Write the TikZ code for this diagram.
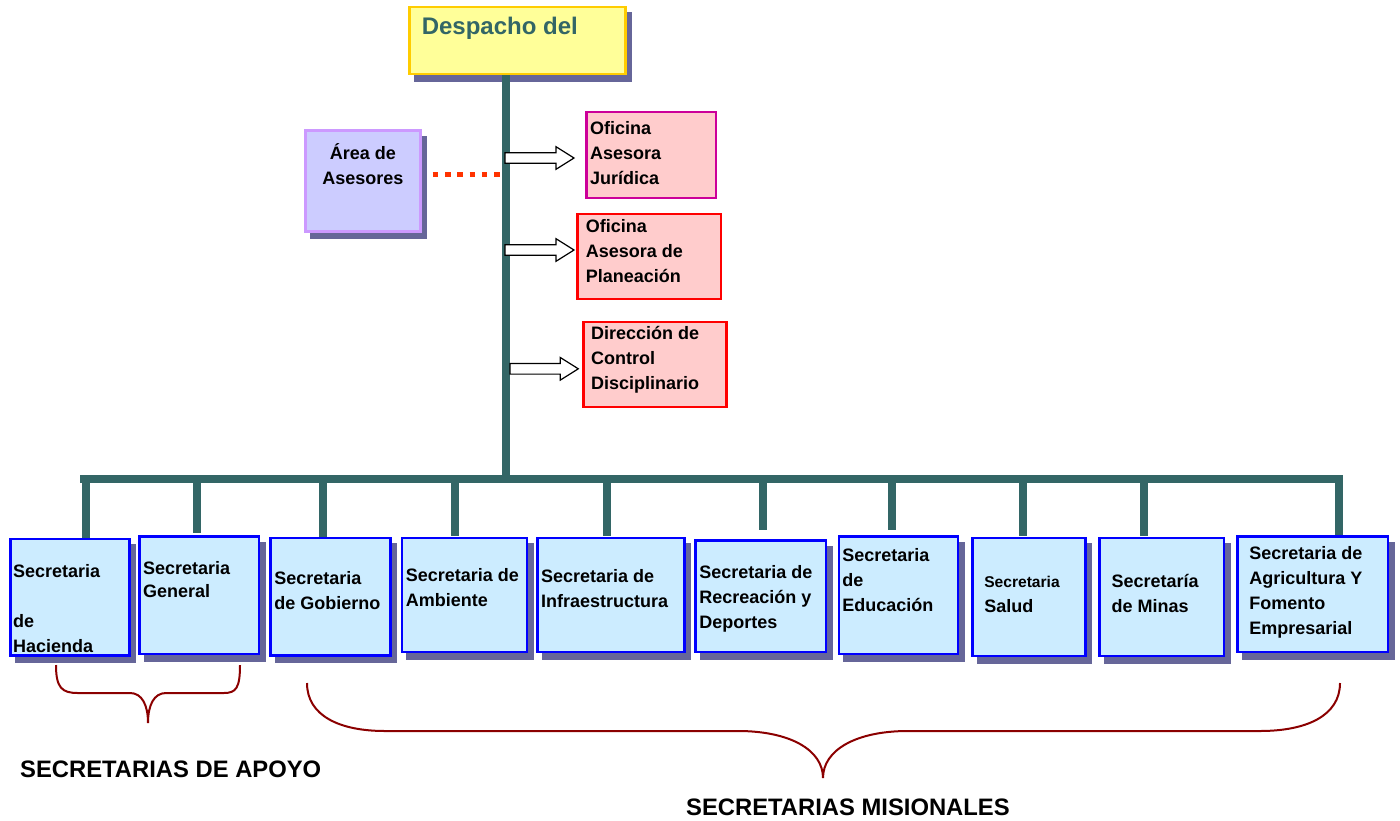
\documentclass[tikz,border=0pt]{standalone}
\usepackage{fontspec}
\setmainfont{Liberation Sans}
\usetikzlibrary{shadows,calc}
\definecolor{trunkc}{HTML}{336666}
\definecolor{shadowc}{HTML}{666699}
\definecolor{despfill}{HTML}{FFFF99}
\definecolor{despline}{HTML}{FFCC00}
\definecolor{advfill}{HTML}{CCCCFF}
\definecolor{advline}{HTML}{CC99FF}
\definecolor{offfill}{HTML}{FFCCCC}
\definecolor{secfill}{HTML}{CCECFF}
\definecolor{bracec}{HTML}{8B0000}
\newcommand*{\boxfont}{\bfseries\fontsize{18}{25}\selectfont}
% #1 width, #2 height, #3 space above the text, #4 left indent, #5 text
\newcommand*{\boxtxt}[5]{%
  \parbox[t][#2][t]{#1}{\vspace*{#3}\raggedright\leftskip=#4\relax #5}}
% #1 start on the trunk, #2 target box, #3 gap before the box
\newcommand*{\hollowarrow}[3]{%
  \draw[hollow] let \p1=(#1), \p2=(#2.west) in
    (\x1,\y1+5.3pt) -- (\x2-#3-18pt,\y1+5.3pt) -- (\x2-#3-18pt,\y1+11.3pt)
    -- (\x2-#3,\y1) -- (\x2-#3-18pt,\y1-11.3pt) -- (\x2-#3-18pt,\y1-5.3pt)
    -- (\x1,\y1-5.3pt) -- cycle;}

\begin{document}
\begin{tikzpicture}[x=1pt, y=-1pt,
  every node/.style={inner sep=0pt},
  castshadow/.style={drop shadow={shadow xshift=5.5pt, shadow yshift=-6.5pt,
      fill=shadowc, draw=shadowc, line width=2.5pt, opacity=1}},
  despbox/.style={draw=despline, fill=despfill, line width=2.5pt, anchor=north west,
      castshadow, text=trunkc, font=\bfseries\fontsize{24}{28}\selectfont},
  advbox/.style={draw=advline, fill=advfill, line width=2.5pt, anchor=north west,
      castshadow, font=\boxfont},
  officebox/.style={draw=red, fill=offfill, line width=2.5pt, anchor=north west, font=\boxfont},
  secbox/.style={draw=blue, fill=secfill, line width=2.5pt, anchor=north west,
      castshadow, font=\boxfont},
  bus/.style={draw=trunkc, line width=8pt},
  hollow/.style={draw=black, fill=white, line width=1.2pt, line join=miter},
  dotline/.style={draw={rgb,255:red,255;green,51;blue,0}, line width=5.5pt,
      dash pattern=on 5.5pt off 6.8pt},
  brace/.style={draw=bracec, line width=2pt},
  grouplabel/.style={anchor=base west, font=\bfseries\fontsize{23.8}{28}\selectfont}]
\useasboundingbox (0,0) rectangle (1400,820);

% top of the chart
\node[despbox] (desp) at (408.3,5.7) {\boxtxt{216pt}{67pt}{10.5pt}{12.2pt}{Despacho del}};
\node[advbox] (area) at (304,129.3)
  {\boxtxt{115.2pt}{100.9pt}{13.2pt}{0pt}{\centering Área de\\Asesores}};
\node[officebox, draw={rgb,255:red,204;green,0;blue,153}] (jur) at (585,110.7)
  {\boxtxt{129.8pt}{86.1pt}{10pt}{3.8pt}{Oficina\\Asesora\\Jurídica}};
\node[officebox] (pla) at (576,212.7)
  {\boxtxt{143.8pt}{84.8pt}{5.3pt}{8.5pt}{Oficina\\Asesora de\\Planeación}};
\node[officebox] (dis) at (582.3,320.7)
  {\boxtxt{142.9pt}{85.1pt}{4.7pt}{7.5pt}{Dirección de\\Control\\Disciplinario}};

% secretarias
\node[secbox] (hac) at (9.3,537.7)
  {\boxtxt{118.9pt}{116.5pt}{25pt}{2.5pt}{Secretaria\\[25pt] de\\ Hacienda}};
\node[secbox] (gen) at (138.3,535.3)
  {\boxtxt{119.2pt}{117.2pt}{25.3pt}{3.5pt}{Secretaria\\[-2pt] General}};
\node[secbox] (gob) at (269.3,536.7)
  {\boxtxt{119.9pt}{117.5pt}{33pt}{3.8pt}{Secretaria\\ de Gobierno}};
\node[secbox] (amb) at (400.7,536.7)
  {\boxtxt{125.1pt}{114.1pt}{30.6pt}{3.8pt}{Secretaria de\\ Ambiente}};
\node[secbox] (inf) at (536,536.7)
  {\boxtxt{147.2pt}{114.1pt}{31.2pt}{3.8pt}{Secretaria de\\ Infraestructura}};
\node[secbox] (rec) at (694.3,539)
  {\boxtxt{130.5pt}{111.8pt}{25pt}{3.8pt}{Secretaria de\\ Recreación y\\ Deportes}};
\node[secbox] (edu) at (837.7,535)
  {\boxtxt{118.8pt}{117.5pt}{12.3pt}{3.4pt}{Secretaria\\ de\\ Educación}};
\node[secbox] (sal) at (971,536.7)
  {\boxtxt{113.2pt}{118.1pt}{38pt}{12pt}{{\fontsize{15.6}{25}\selectfont Secretaria}\\ Salud}};
\node[secbox] (min) at (1098.3,536.7)
  {\boxtxt{124.2pt}{118.1pt}{36pt}{12pt}{Secretaría\\ de Minas}};
\node[secbox] (agr) at (1236,535)
  {\boxtxt{150.8pt}{115.8pt}{10pt}{12pt}{Secretaria de\\ Agricultura Y\\ Fomento\\ Empresarial}};

% trunk and bus
\coordinate (hub) at (506,479);
\coordinate (busL) at (80,479);
\coordinate (busR) at (1343,479);
\draw[bus] (desp.south -| hub) -- (hub);
\draw[bus] (busL) -- (busR);
\foreach \b/\x/\s in {hac/86/0pt, gen/197/2pt, gob/323/0pt, amb/455/1pt, inf/607/1pt,
                      rec/763/9pt, edu/892/5pt, sal/1023/1pt, min/1144/1pt, agr/1339/0pt}{
  \coordinate (d-\b) at (\x,479);
  \draw[bus, shorten >=\s] (d-\b) -- (\b.north -| d-\b);
}

% advisers and offices
\coordinate (dots) at (502,174.5);
\draw[dotline, shorten <=11pt] (area.east |- dots) -- (dots);
\coordinate (arw1) at (505,158);
\coordinate (arw2) at (505,250);
\coordinate (arw3) at (510,368.8);
\hollowarrow{arw1}{jur}{11pt}
\hollowarrow{arw2}{pla}{2pt}
\hollowarrow{arw3}{dis}{4pt}

% groups
\draw[brace] (56,665) .. controls (56,688) and (62,693) .. (78,693) -- (130,693)
  .. controls (142,693) and (148,705) .. (148,723)
  .. controls (148,705) and (154,693) .. (166,693) -- (224,693)
  .. controls (236,693) and (240,688) .. (240,665);
\draw[brace] (307,683) .. controls (307,716) and (340,731) .. (385,731) -- (738,731)
  .. controls (790,731) and (823,750) .. (823,778)
  .. controls (823,750) and (856,731) .. (908,731) -- (1260,731)
  .. controls (1306,731) and (1340,716) .. (1340,683);
\node[grouplabel] (apoyo) at (20,777) {SECRETARIAS DE APOYO};
\node[grouplabel] (misional) at (686,815) {SECRETARIAS MISIONALES};
\end{tikzpicture}
\end{document}
